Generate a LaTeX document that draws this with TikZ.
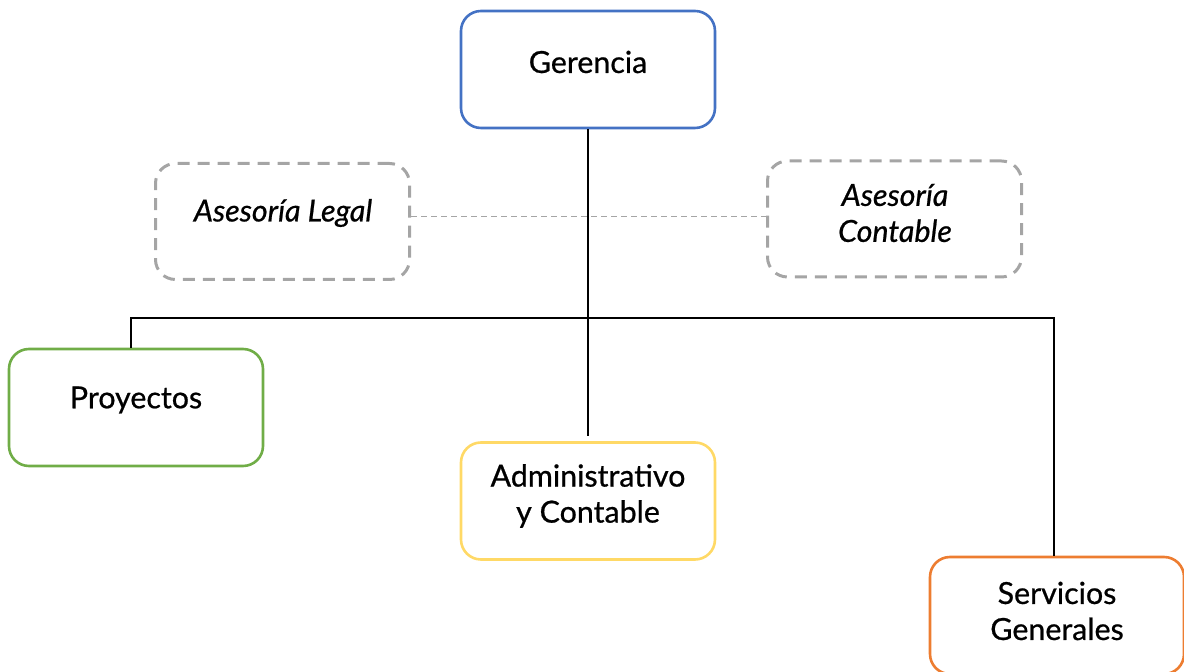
\documentclass[tikz,border=0pt]{standalone}
\usepackage{fontspec}
\setmainfont{Lato}
\newfontfamily\boxfont{Lato}[FakeBold=0.7]
\definecolor{cblue}{HTML}{4472C4}
\definecolor{cgreen}{HTML}{70AD47}
\definecolor{cyellow}{HTML}{FFD966}
\definecolor{corange}{HTML}{ED7D31}
\definecolor{cgray}{HTML}{A5A5A5}
\begin{document}
\begin{tikzpicture}[x=0.5pt,y=-0.5pt,
  box/.style={draw=#1, line width=1.3pt, rounded corners=10pt, minimum width=127pt, minimum height=58.5pt, inner sep=0pt},
  dbox/.style={draw=cgray, line width=1.5pt, dash pattern=on 6pt off 4pt, rounded corners=10pt, minimum width=127pt, minimum height=58pt, inner sep=0pt},
  lbl/.style={font=\boxfont\fontsize{15.2}{18}\selectfont, align=center, inner sep=0pt},
  ilbl/.style={font=\boxfont\fontsize{15.2}{18}\selectfont\itshape, align=center, inner sep=0pt},
  conn/.style={line width=0.65pt, black},
  dconn/.style={line width=0.5pt, cgray, dash pattern=on 3pt off 2pt}]
\useasboundingbox (0,0) rectangle (1184,672);
\clip (0,0) rectangle (1184,672);
% boxes
\node[box=cblue] (g) at (588,69.5) {};
\node[lbl] (gt) at (588,62) {Gerencia};
\node[dbox] (al) at (282.5,221.5) {};
\node[ilbl] (alt) at (283,213) {Asesoría Legal};
\node[dbox] (ac) at (894.5,219) {};
\node[ilbl] (act) at (895,213) {Asesoría\\Contable};
\node[box=cgreen] (p) at (136,407.5) {};
\node[lbl] (pt) at (136,400) {Proyectos};
\node[box=cyellow] (a) at (588,501) {};
\node[lbl] (at) at (588,496) {Administrativo\\y Contable};
\node[box=corange] (s) at (1057,615.5) {};
\node[lbl] (st) at (1057,611) {Servicios\\Generales};
% connectors
\coordinate (aend) at (588,436);
\draw[conn] (g.south) -- (aend);
\coordinate (hl) at (131,318);
\coordinate (hr) at (1054,318);
\draw[conn] (p.north -| hl) -- (hl) -- (hr) -- (s.north -| hr);
\draw[dconn] (al.east |- 0,217) -- (ac.west |- 0,217);
\end{tikzpicture}
\end{document}
